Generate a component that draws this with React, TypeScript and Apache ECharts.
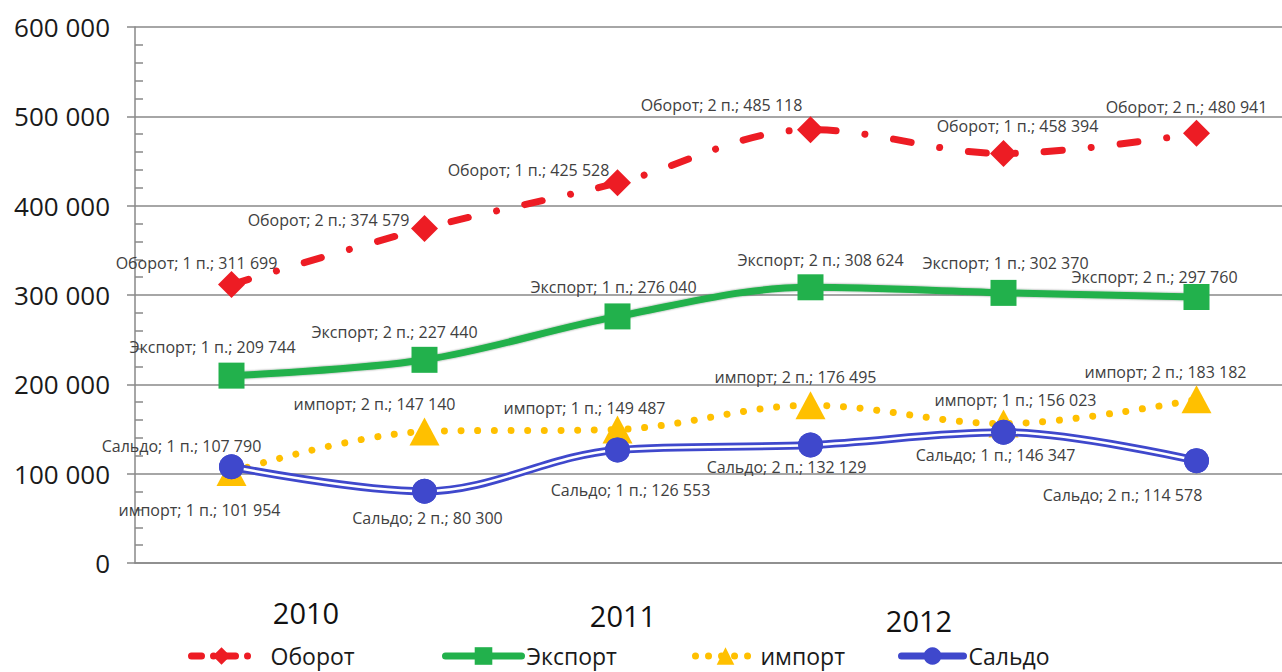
import React, { useEffect, useRef } from "react";
import * as echarts from "echarts";

// ---- data ----
const categories = ["2010-1", "2010-2", "2011-1", "2011-2", "2012-1", "2012-2"];
const periods = ["1 п.", "2 п.", "1 п.", "2 п.", "1 п.", "2 п."];
const years = ["2010", "2011", "2012"];
const turnover = [311699, 374579, 425528, 485118, 458394, 480941];
const exportsData = [209744, 227440, 276040, 308624, 302370, 297760];
const importsData = [101954, 147140, 149487, 176495, 156023, 183182];
const saldo = [107790, 80300, 126553, 132129, 146347, 114578];
const yTickValues = [0, 100000, 200000, 300000, 400000, 500000, 600000];
const yTickLabels = ["0", "100 000", "200 000", "300 000", "400 000", "500 000", "600 000"];
const seriesNames = ["Оборот", "Экспорт", "импорт", "Сальдо"];

// ---- layout (label offsets from point, px) ----
const turnoverOff = [[-35, -22], [-96, -8], [-89, -13], [-89, -25], [14, -28], [-10, -26]];
const exportOff = [[-19, -29], [-30, -28], [-4, -29], [10, -27], [2, -30], [-42, -20]];
const importOff = [[-32, 38], [-50, -28], [-33, -21], [-15, -28], [12, -24], [-31, -27]];
const saldoOff = [[-50, -21], [3, 27], [13, 40], [-24, 22], [-8, 23], [-74, 34]];
const yearPos = [[306, 612], [623, 615], [919, 620]];

const FONT = "Open Sans";
const RED = "#ED1C24";
const GREEN = "#22B14C";
const YELLOW = "#FFC000";
const BLUE = "#3F48CC";
const GRID = "#898989";

const fmt = (v: number) => String(v).replace(/\B(?=(\d{3})+(?!\d))/g, " ");

const withOffsets = (vals: number[], offs: number[][]) =>
  vals.map((v, i) => ({ value: v, label: { offset: offs[i] } }));

const labelCfg = {
  show: true,
  position: "inside",
  align: "center",
  verticalAlign: "middle",
  fontFamily: FONT,
  fontSize: 16,
  color: "#404040",
  formatter: (p: any) => `${p.seriesName}; ${periods[p.dataIndex]}; ${fmt(p.value)}`,
};

export default function App() {
  const ref = useRef<HTMLDivElement>(null);
  useEffect(() => {
    if (!ref.current) return;
    const chart = echarts.init(ref.current, null, { renderer: "svg" });
    const legendBase = (
      name: string,
      left: number,
      itemWidth: number,
      pad: number,
      lineColor: string,
      lineType: any
    ) => ({
      data: [name],
      left,
      top: 637,
      itemWidth,
      itemHeight: 22,
      selectedMode: false,
      lineStyle: { width: 7, color: lineColor, type: lineType, cap: "round" },
      textStyle: {
        fontFamily: FONT,
        fontSize: 23,
        color: "#1a1a1a",
        padding: [0, 0, 0, pad],
        lineHeight: 28,
      },
    });
    chart.setOption({
      animation: false,
      backgroundColor: "#ffffff",
      grid: { left: 135, top: 27, width: 1158, height: 536, containLabel: false },
      xAxis: {
        type: "category",
        data: categories,
        boundaryGap: true,
        axisLine: { show: true, lineStyle: { color: GRID, width: 1.5 } },
        axisTick: { show: false },
        axisLabel: { show: false },
        splitLine: { show: false },
      },
      yAxis: [
        {
          type: "value",
          min: 0,
          max: 600000,
          interval: 100000,
          axisLine: { show: true, lineStyle: { color: GRID, width: 1.5 } },
          axisTick: { show: true, length: 8, lineStyle: { color: GRID, width: 1.5 } },
          axisLabel: {
            margin: 25,
            fontFamily: FONT,
            fontSize: 26,
            color: "#1a1a1a",
            formatter: (v: number) => yTickLabels[yTickValues.indexOf(v)] ?? "",
          },
          splitLine: { show: true, lineStyle: { color: GRID, width: 1.5 } },
        },
        {
          type: "value",
          position: "left",
          min: 0,
          max: 600000,
          interval: 100000,
          axisLine: { show: false },
          axisTick: { show: false, inside: true },
          minorTick: { show: true, splitNumber: 5, length: 8, lineStyle: { color: GRID, width: 1.5 } },
          axisLabel: { show: false },
          splitLine: { show: false },
        },
      ],
      legend: [
        legendBase(seriesNames[0], 183, 60, 14, RED, [10, 12, 0.01, 12]),
        legendBase(seriesNames[1], 437, 76, 0, GREEN, "solid"),
        legendBase(seriesNames[2], 687, 60, 0, YELLOW, [0.01, 13]),
        legendBase(seriesNames[3], 893, 62, 0, BLUE, "solid"),
      ],
      graphic: years.map((y, i) => ({
        type: "text",
        x: yearPos[i][0],
        y: yearPos[i][1],
        style: {
          text: y,
          fontFamily: FONT,
          fontSize: 29,
          fill: "#111",
          align: "center",
          verticalAlign: "middle",
        },
      })),
      series: [
        {
          name: seriesNames[0],
          type: "line",
          data: withOffsets(turnover, turnoverOff),
          smooth: 0.35,
          symbol: "diamond",
          symbolSize: 27,
          itemStyle: { color: RED },
          lineStyle: { color: RED, width: 7, type: [18, 29, 0.01, 29], cap: "round" },
          label: labelCfg,
          z: 2,
        },
        {
          name: seriesNames[1],
          type: "line",
          data: withOffsets(exportsData, exportOff),
          smooth: 0.35,
          symbol: "rect",
          symbolSize: 26,
          itemStyle: { color: GREEN },
          lineStyle: {
            color: GREEN,
            width: 7,
            shadowColor: "rgba(0,0,0,0.45)",
            shadowBlur: 2,
          },
          label: labelCfg,
          z: 2,
        },
        {
          name: seriesNames[2],
          type: "line",
          data: withOffsets(importsData, importOff),
          smooth: 0.35,
          symbol: "triangle",
          symbolSize: [30, 28],
          itemStyle: { color: YELLOW },
          lineStyle: { color: YELLOW, width: 7, type: [0.01, 16.7], cap: "round" },
          label: labelCfg,
          z: 2,
        },
        {
          name: seriesNames[3],
          type: "line",
          data: withOffsets(saldo, saldoOff),
          smooth: 0.35,
          symbol: "circle",
          symbolSize: 25,
          itemStyle: { color: BLUE },
          lineStyle: { color: BLUE, width: 8 },
          label: labelCfg,
          z: 3,
        },
        {
          name: "Сальдо-inner",
          type: "line",
          data: saldo,
          smooth: 0.35,
          symbol: "none",
          silent: true,
          lineStyle: { color: "#ffffff", width: 2.5 },
          z: 4,
        },
        {
          name: "Сальдо-points",
          type: "line",
          data: saldo,
          smooth: 0.35,
          symbol: "circle",
          symbolSize: 25,
          silent: true,
          itemStyle: { color: BLUE },
          lineStyle: { width: 0, opacity: 0 },
          z: 5,
        },
      ],
    });
    return () => chart.dispose();
  }, []);
  return (
    <div
      ref={ref}
      style={{ position: "fixed", left: 0, top: 0, width: 1300, height: 672, background: "#fff" }}
    />
  );
}
